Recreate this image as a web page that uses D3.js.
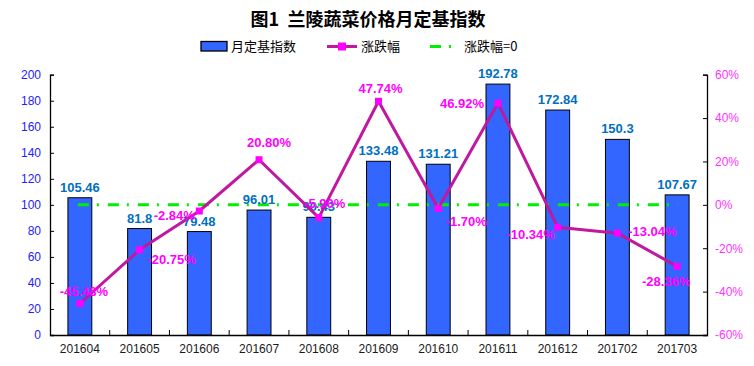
<!DOCTYPE html>
<html><head><meta charset="utf-8">
<script src="https://cdnjs.cloudflare.com/ajax/libs/d3/7.8.5/d3.min.js"></script>
<style>body{margin:0;background:#fff}svg{display:block}</style>
</head><body>
<svg id="c" width="754" height="366"></svg>
<script>
const categories = ["201604","201605","201606","201607","201608","201609","201610","201611","201612","201702","201703"];
const indexValues = [105.46, 81.8, 79.48, 96.01, 90.43, 133.48, 131.21, 192.78, 172.84, 150.3, 107.67];
const changeValues = [-45.48, -20.75, -2.84, 20.80, -5.90, 47.74, -1.70, 46.92, -10.34, -13.04, -28.36];
const leftTicks = [0,20,40,60,80,100,120,140,160,180,200];
const rightTicks = [-60,-40,-20,0,20,40,60];
// label placement offsets (style) for the percentage labels
const pctLabelOffsets = [[4,-12],[32,10],[-25,4],[10,-17],[6,-14],[2,-13],[28,13],[-36,0],[-27,7],[35,-2],[-11,15]];

const svg = d3.select("#c");
const L = 50, R = 707, T = 74.7, B = 335;
const x = d3.scaleBand().domain(categories).range([L, R]).paddingInner(0.6).paddingOuter(0.3);
const yL = d3.scaleLinear().domain([0, 200]).range([B, T]);
const yR = d3.scaleLinear().domain([-60, 60]).range([B, T]);
const cx = d => x(d) + x.bandwidth() / 2;
const latin = "'Liberation Sans', Arial, sans-serif";
const cjk = "'Noto Sans CJK SC', sans-serif";

// title
svg.append("text").attr("x", 368).attr("y", 26).attr("text-anchor", "middle")
  .style("font-family", cjk).style("font-size", "18px").style("font-weight", "bold")
  .style("white-space", "pre").attr("xml:space", "preserve").text("图1  兰陵蔬菜价格月定基指数");

// legend
const lg = svg.append("g");
lg.append("rect").attr("x", 201).attr("y", 41.5).attr("width", 26).attr("height", 9.5)
  .attr("fill", "#3366FF").attr("stroke", "#000").attr("stroke-width", 1.3);
lg.append("text").attr("x", 231).attr("y", 51).style("font-family", cjk).style("font-size", "13px").text("月定基指数");
lg.append("line").attr("x1", 327).attr("x2", 357).attr("y1", 46.5).attr("y2", 46.5)
  .attr("stroke", "#C0189E").attr("stroke-width", 3);
lg.append("rect").attr("x", 338).attr("y", 42.5).attr("width", 8).attr("height", 8).attr("fill", "#FF00FF");
lg.append("text").attr("x", 361).attr("y", 51).style("font-family", cjk).style("font-size", "13px").text("涨跌幅");
lg.append("line").attr("x1", 430).attr("x2", 452).attr("y1", 46.5).attr("y2", 46.5)
  .attr("stroke", "#00EE00").attr("stroke-width", 3).attr("stroke-dasharray", "11,8,2,9");
lg.append("text").attr("x", 464).attr("y", 51).style("font-family", cjk).style("font-size", "13px").text("涨跌幅=0");

// bars
svg.append("g").selectAll("rect").data(indexValues).join("rect")
  .attr("x", (d, i) => x(categories[i])).attr("width", x.bandwidth())
  .attr("y", d => yL(d)).attr("height", d => B - yL(d))
  .attr("fill", "#3366FF").attr("stroke", "#000").attr("stroke-width", 1);

// axes
const axL = svg.append("g").attr("transform", `translate(${L},0)`)
  .call(d3.axisLeft(yL).tickValues(leftTicks).tickSize(-4).tickPadding(9));
axL.selectAll("text").style("font-family", latin).style("font-size", "12px").attr("fill", "#2222FF");
const axR = svg.append("g").attr("transform", `translate(${R},0)`)
  .call(d3.axisRight(yR).tickValues(rightTicks).tickSize(-4).tickPadding(8).tickFormat(d => d + "%"));
axR.selectAll("text").style("font-family", latin).style("font-size", "12px").attr("fill", "#FF33FF");
const axB = svg.append("g").attr("transform", `translate(0,${B})`)
  .call(d3.axisBottom(x).tickSize(0).tickPadding(9));
axB.selectAll("text").style("font-family", latin).style("font-size", "12px").attr("fill", "#1a1a1a");
[axL, axR, axB].forEach(a => { a.select(".domain").attr("stroke", "#000").attr("stroke-width", 1.3); a.selectAll("line").attr("stroke", "#000"); });
// category separator ticks
svg.append("g").selectAll("line").data(categories.slice(1)).join("line")
  .attr("x1", d => x(d) - x.step() * x.paddingInner() / 2).attr("x2", d => x(d) - x.step() * x.paddingInner() / 2)
  .attr("y1", B - 5).attr("y2", B).attr("stroke", "#000");

// zero line
svg.append("line").attr("x1", cx(categories[0]) - 2).attr("x2", cx(categories[categories.length - 1]) + 1)
  .attr("y1", yR(0)).attr("y2", yR(0)).attr("stroke", "#00EE00").attr("stroke-width", 3)
  .attr("stroke-dasharray", "11,8,2,9");

// bar labels
svg.append("g").selectAll("text").data(indexValues).join("text")
  .attr("x", (d, i) => cx(categories[i])).attr("y", d => yL(d) - 10.5)
  .attr("text-anchor", "middle").attr("dominant-baseline", "central")
  .style("font-family", latin).style("font-size", "13px").style("font-weight", "bold")
  .attr("fill", "#0070C0").text(d => d);

// change line
const line = d3.line().x((d, i) => cx(categories[i])).y(d => yR(d));
svg.append("path").datum(changeValues).attr("d", line).attr("fill", "none")
  .attr("stroke", "#C0189E").attr("stroke-width", 3).attr("stroke-linejoin", "round");
svg.append("g").selectAll("rect").data(changeValues).join("rect")
  .attr("x", (d, i) => cx(categories[i]) - 3.5).attr("y", d => yR(d) - 3.5)
  .attr("width", 7).attr("height", 7).attr("fill", "#FF00FF");

// pct labels
svg.append("g").selectAll("text").data(changeValues).join("text")
  .attr("x", (d, i) => cx(categories[i]) + pctLabelOffsets[i][0])
  .attr("y", (d, i) => yR(d) + pctLabelOffsets[i][1])
  .attr("text-anchor", "middle").attr("dominant-baseline", "central")
  .style("font-family", latin).style("font-size", "13px").style("font-weight", "bold")
  .attr("fill", "#FF00FF").text(d => d.toFixed(2) + "%");
</script>
</body></html>
